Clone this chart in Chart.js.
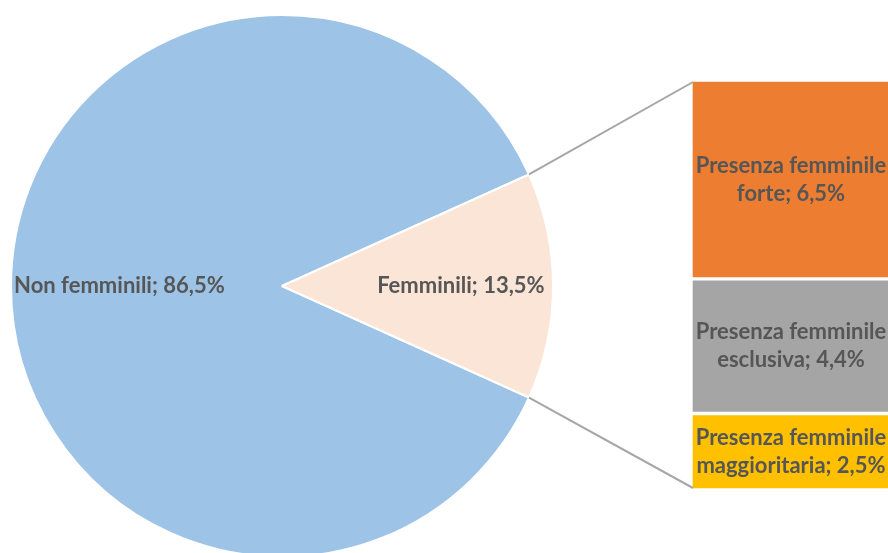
<!DOCTYPE html>
<html>
<head>
<meta charset="utf-8">
<script src="https://cdn.jsdelivr.net/npm/chart.js@4/dist/chart.umd.min.js"></script>
<style>
  html, body { margin: 0; padding: 0; background: #fff; overflow: hidden; }
  #stage { position: relative; width: 888px; height: 553px; overflow: hidden; }
  canvas { position: absolute; }
  #torta { left: 10px; top: 14px; }
  #barra { left: 691px; top: 80px; }
  #linee { left: 0; top: 0; pointer-events: none; }
</style>
</head>
<body>
<div id="stage">
  <canvas id="torta" width="544" height="544"></canvas>
  <canvas id="barra" width="204" height="410"></canvas>
  <canvas id="linee" width="888" height="553"></canvas>
</div>
<script>
// pie: share of companies
const pieLabels = ["Non femminili", "Femminili"];
const pieValues = [86.5, 13.5];
const pieColors = ["#9DC3E6", "#FBE5D6"];

// breakdown of "Femminili" (bottom to top)
const barLabels = ["Presenza femminile maggioritaria", "Presenza femminile esclusiva", "Presenza femminile forte"];
const barValues = [2.5, 4.4, 6.5];
const barColors = ["#FFC000", "#A5A5A5", "#ED7D31"];
const barLines = [
  ["Presenza femminile", "maggioritaria; 2,5%"],
  ["Presenza femminile", "esclusiva; 4,4%"],
  ["Presenza femminile", "forte; 6,5%"]
];

const fmt = v => v.toFixed(1).replace(".", ",") + "%";
const labelFont = "bold 22px Lato";
const labelColor = "#565656";
const labelRadius = [0.6, 0.66]; // how far out along the slice each pie label sits

// put the small slice at 3 o'clock
const rotation = 90 - (pieValues[0] + pieValues[1] / 2) / 100 * 360;

const pieLabelPlugin = {
  id: "pieLabels",
  afterDatasetsDraw(chart) {
    let ctx = chart.ctx;
    let meta = chart.getDatasetMeta(0);
    ctx.save();
    ctx.font = labelFont;
    ctx.fillStyle = labelColor;
    ctx.textAlign = "center";
    ctx.textBaseline = "middle";
    meta.data.forEach((arc, i) => {
      let mid = (arc.startAngle + arc.endAngle) / 2;
      let r = arc.outerRadius * labelRadius[i];
      ctx.fillText(pieLabels[i] + "; " + fmt(pieValues[i]), arc.x + r * Math.cos(mid), arc.y + r * Math.sin(mid));
    });
    ctx.restore();
  }
};

const barLabelPlugin = {
  id: "barLabels",
  afterDatasetsDraw(chart) {
    let ctx = chart.ctx;
    ctx.save();
    ctx.font = labelFont;
    ctx.fillStyle = labelColor;
    ctx.textAlign = "center";
    ctx.textBaseline = "middle";
    chart.data.datasets.forEach((ds, i) => {
      let bar = chart.getDatasetMeta(i).data[0];
      let cy = (bar.y + bar.base) / 2;
      let lines = barLines[i];
      lines.forEach((t, k) => {
        ctx.fillText(t, bar.x - 2, cy + (k - (lines.length - 1) / 2) * 28);
      });
    });
    ctx.restore();
  }
};

let pieChart = new Chart(document.querySelector("#torta"), {
  type: "pie",
  data: {
    labels: pieLabels,
    datasets: [{
      data: pieValues,
      backgroundColor: pieColors,
      borderColor: "#ffffff",
      borderWidth: 2
    }]
  },
  options: {
    responsive: false,
    animation: false,
    rotation: rotation,
    layout: { padding: 0 },
    plugins: { legend: { display: false }, tooltip: { enabled: false } }
  },
  plugins: [pieLabelPlugin]
});

let barChart = new Chart(document.querySelector("#barra"), {
  type: "bar",
  data: {
    labels: ["Femminili"],
    datasets: barValues.map((v, i) => ({
      label: barLabels[i],
      data: [v],
      backgroundColor: barColors[i],
      borderColor: "#ffffff",
      borderWidth: 2,
      borderSkipped: false,
      barPercentage: 1,
      categoryPercentage: 1
    }))
  },
  options: {
    responsive: false,
    animation: false,
    layout: { padding: 0 },
    scales: {
      x: { stacked: true, display: false },
      y: { stacked: true, display: false, min: 0, max: barValues.reduce((a, b) => a + b, 0) }
    },
    plugins: { legend: { display: false }, tooltip: { enabled: false } }
  },
  plugins: [barLabelPlugin]
});

// connector lines from the small slice to the bar
function drawConnectors() {
  let ctx = document.querySelector("#linee").getContext("2d");
  let pieBox = document.querySelector("#torta");
  let barBox = document.querySelector("#barra");
  let arc = pieChart.getDatasetMeta(0).data[1];
  let top = barChart.getDatasetMeta(barValues.length - 1).data[0];
  let bottom = barChart.getDatasetMeta(0).data[0];
  let px = pieBox.offsetLeft, py = pieBox.offsetTop;
  let bx = barBox.offsetLeft, by = barBox.offsetTop;
  let r = arc.outerRadius;
  let a1 = arc.startAngle, a2 = arc.endAngle;
  let p1 = [px + arc.x + r * Math.cos(a1), py + arc.y + r * Math.sin(a1)];
  let p2 = [px + arc.x + r * Math.cos(a2), py + arc.y + r * Math.sin(a2)];
  let q1 = [bx + top.x - top.width / 2 + 2, by + top.y + 2];
  let q2 = [bx + bottom.x - bottom.width / 2 + 2, by + bottom.base - 2];
  ctx.strokeStyle = "#A6A6A6";
  ctx.lineWidth = 2;
  ctx.beginPath();
  ctx.moveTo(p1[0], p1[1]);
  ctx.lineTo(q1[0], q1[1]);
  ctx.moveTo(p2[0], p2[1]);
  ctx.lineTo(q2[0], q2[1]);
  ctx.stroke();
}
drawConnectors();
</script>
</body>
</html>
